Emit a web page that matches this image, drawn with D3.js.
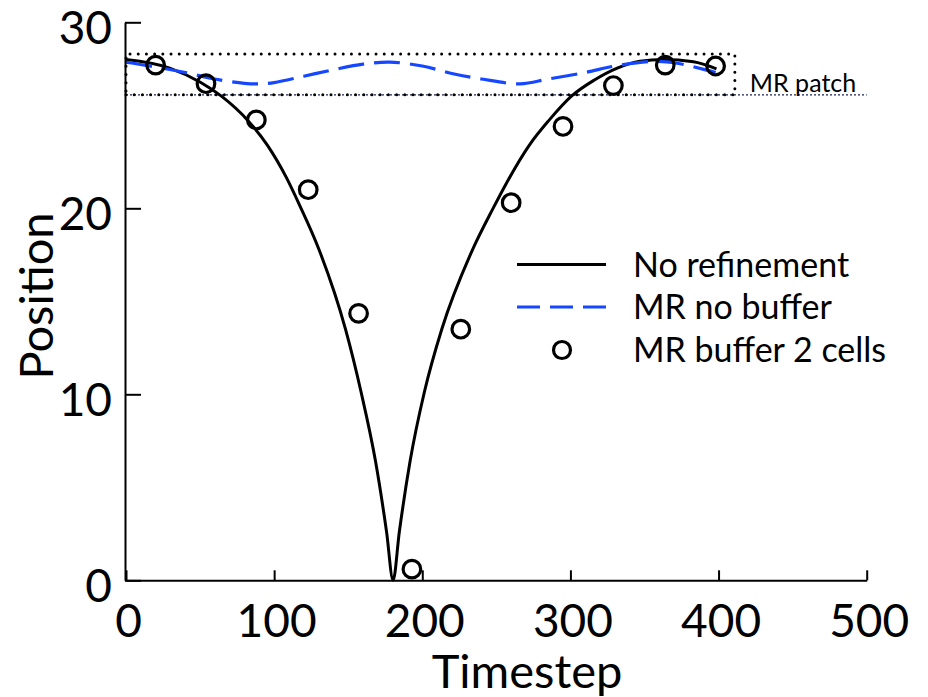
<!DOCTYPE html>
<html>
<head>
<meta charset="utf-8">
<script src="https://cdn.jsdelivr.net/npm/d3@7"></script>
<style>
  html, body { margin: 0; padding: 0; background: #fff; }
  svg { display: block; }
  text { font-family: Lato, "Open Sans", sans-serif; fill: #000; }
</style>
</head>
<body>
<svg id="chart" width="928" height="697"></svg>
<script>
// ---- data ----
const xTicks = [0, 100, 200, 300, 400, 500];
const yTicks = [0, 10, 20, 30];

// No refinement (black solid)
const noRefT = [0, 29.5, 50.2, 64.4, 82.5, 95.4, 108.3, 117.3, 130.2, 148.3, 158.6, 168.5, 175.9, 180.3,
                184.5, 191.7, 201.5, 213, 233.5, 247.7, 256.8, 272.3, 285.2, 300.7, 316.2, 331.6, 347, 363, 383, 398.6];
const noRefY = [28.0, 27.54, 26.78, 26.03, 24.7, 23.4, 21.65, 20.15, 17.8, 13.46, 10.15, 6.37, 2.6, 0.0,
                2.6, 6.37, 10.15, 13.46, 17.7, 19.98, 21.35, 23.4, 24.7, 26.03, 26.9, 27.54, 27.91, 28.0, 27.88, 27.5];

// MR no buffer (blue dashed)
const noBufT = [0, 20, 40, 60, 80, 90, 100, 120, 140, 160, 178, 200, 220, 240, 266, 285, 310, 330, 357, 372, 392, 398];
const noBufY = [27.85, 27.6, 27.3, 26.95, 26.72, 26.69, 26.76, 27.1, 27.45, 27.75, 27.86, 27.65, 27.25, 26.95, 26.69, 26.95, 27.3, 27.65, 27.9, 27.8, 27.43, 27.3];

// MR buffer 2 cells (circles)
const bufT = [20, 54, 88, 123, 157, 193, 226, 260, 295, 329, 364, 398];
const bufY = [27.7, 26.7, 24.75, 21.0, 14.35, 0.6, 13.5, 20.3, 24.4, 26.6, 27.7, 27.65];

// MR patch region
const patchT = [0, 411];
const patchY = [26.1, 28.3];
const patchLabel = "MR patch";

const legendLabels = ["No refinement", "MR no buffer", "MR buffer 2 cells"];
const xTitle = "Timestep";
const yTitle = "Position";

// ---- drawing ----
const svg = d3.select("#chart");
const x = d3.scaleLinear().domain([0, 500]).range([126, 866.7]);
const y = d3.scaleLinear().domain([0, 30]).range([580.3, 22.3]);
const blue = "#1447ff";

// patch box
const g = svg.append("g");
g.append("line")
  .attr("x1", x(0)).attr("x2", x(500))
  .attr("y1", y(patchY[0])).attr("y2", y(patchY[0]))
  .attr("stroke", "#1c2350").attr("stroke-width", 1.3)
  .attr("stroke-dasharray", "2 2");
const boxPts = [[patchT[0], patchY[0]], [patchT[1], patchY[0]], [patchT[1], patchY[1]], [patchT[0], patchY[1]], [patchT[0], patchY[0]]];
g.append("path")
  .attr("d", d3.line().x(d => x(d[0])).y(d => y(d[1]))(boxPts))
  .attr("fill", "none").attr("stroke", "#000").attr("stroke-width", 3)
  .attr("stroke-linecap", "round").attr("stroke-dasharray", "0 8.2");
g.append("text")
  .attr("x", x(patchT[1]) + 15).attr("y", y(patchY[0]) - 3)
  .attr("font-size", 25).text(patchLabel);

// No refinement line
const noRef = noRefT.map((t, i) => [t, noRefY[i]]);
svg.append("path")
  .attr("d", d3.line().x(d => x(d[0])).y(d => y(d[1])).curve(d3.curveMonotoneX)(noRef))
  .attr("fill", "none").attr("stroke", "#000").attr("stroke-width", 3)
  .attr("stroke-linejoin", "miter");

// MR no buffer dashed
const noBuf = noBufT.map((t, i) => [t, noBufY[i]]);
svg.append("path")
  .attr("d", d3.line().x(d => x(d[0])).y(d => y(d[1])).curve(d3.curveCatmullRom)(noBuf))
  .attr("fill", "none").attr("stroke", blue).attr("stroke-width", 3.2)
  .attr("stroke-dasharray", "26 10");

// circles
svg.append("g").selectAll("circle")
  .data(bufT.map((t, i) => [t, bufY[i]]))
  .join("circle")
  .attr("cx", d => x(d[0])).attr("cy", d => y(d[1])).attr("r", 8.8)
  .attr("fill", "none").attr("stroke", "#000").attr("stroke-width", 3.2);

// axes
const yAxis = svg.append("g").attr("transform", `translate(${x(0) - 1},0)`)
  .call(d3.axisLeft(y).tickValues(yTicks).tickSizeInner(-16).tickSizeOuter(0).tickPadding(13).tickFormat(d3.format("d")));
const xAxis = svg.append("g").attr("transform", `translate(0,${y(0)})`)
  .call(d3.axisBottom(x).tickValues(xTicks).tickSizeInner(-10).tickSizeOuter(0).tickPadding(24).tickFormat(d3.format("d")));
[xAxis, yAxis].forEach(a => {
  a.attr("font-family", null).attr("font-size", null);
  a.selectAll("path, line").attr("stroke", "#000").attr("stroke-width", 2);
  a.selectAll("text").attr("font-size", 46).attr("fill", "#000");
});
xAxis.selectAll(".tick text").attr("dx", 2);
yAxis.selectAll(".tick text").attr("dy", "0.45em");

// axis titles
svg.append("text").attr("x", 527).attr("y", 688).attr("text-anchor", "middle")
  .attr("font-size", 47).text(xTitle);
svg.append("text").attr("transform", "translate(53,296) rotate(-90)")
  .attr("text-anchor", "middle").attr("font-size", 47).text(yTitle);

// legend
const lg = svg.append("g");
const rowY = [264.5, 307, 350];
lg.append("line").attr("x1", 517).attr("x2", 606).attr("y1", rowY[0]).attr("y2", rowY[0])
  .attr("stroke", "#000").attr("stroke-width", 3);
lg.append("line").attr("x1", 517).attr("x2", 606).attr("y1", rowY[1]).attr("y2", rowY[1])
  .attr("stroke", blue).attr("stroke-width", 3.2).attr("stroke-dasharray", "23 10");
lg.append("circle").attr("cx", 562).attr("cy", rowY[2]).attr("r", 8.5)
  .attr("fill", "none").attr("stroke", "#000").attr("stroke-width", 3.2);
lg.selectAll("text.leg").data(legendLabels).join("text").attr("class", "leg")
  .attr("x", 633).attr("y", (d, i) => rowY[i] + 12)
  .attr("font-size", 34).text(d => d);
</script>
</body>
</html>
